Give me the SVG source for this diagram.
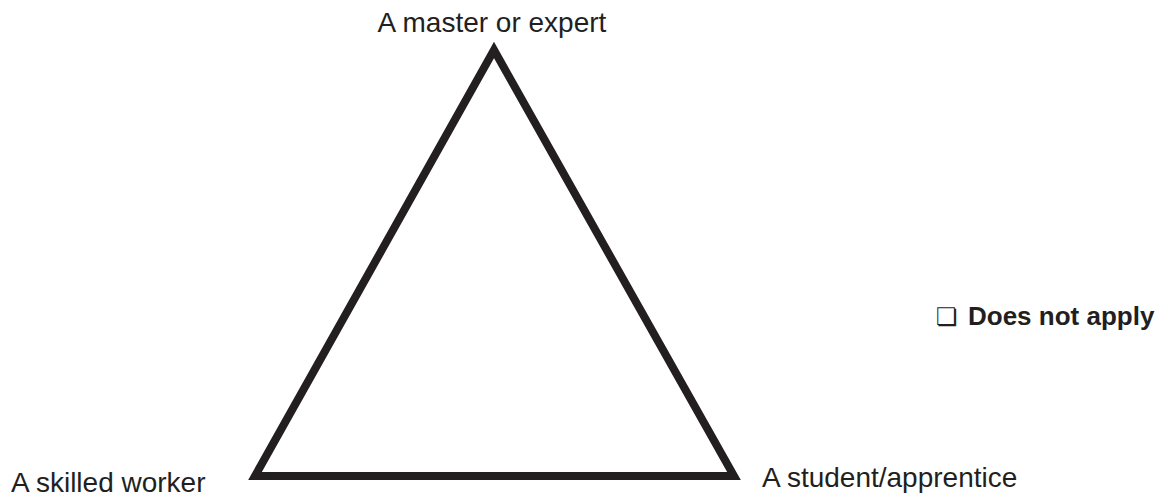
<svg xmlns="http://www.w3.org/2000/svg" width="1170" height="498" viewBox="0 0 1170 498">
<style>
.lbl{font-family:"Liberation Sans",Arial,Helvetica,sans-serif;font-size:28px;fill:#231f20}
.opt{font-family:"Liberation Sans",Arial,Helvetica,sans-serif;font-size:26px;font-weight:bold;fill:#231f20}
.box{font-family:"DejaVu Sans",sans-serif;font-size:24px;fill:#231f20}
.tri{fill:none;stroke:#231f20;stroke-width:8;stroke-linejoin:miter;stroke-miterlimit:10}
</style>
<rect width="1170" height="498" fill="#ffffff"/>
<g id="connectors">
<polygon class="tri" points="494,50 255,476 734,476"/>
</g>
<g id="node-master"><text class="lbl" x="492" y="32" text-anchor="middle">A master or expert</text></g>
<g id="node-skilled"><text class="lbl" x="11" y="492">A skilled worker</text></g>
<g id="node-student"><text class="lbl" x="762" y="487">A student/apprentice</text></g>
<g id="node-option"><text class="box" x="936" y="325">❏</text><text class="opt" x="968" y="325">Does not apply</text></g>
</svg>
